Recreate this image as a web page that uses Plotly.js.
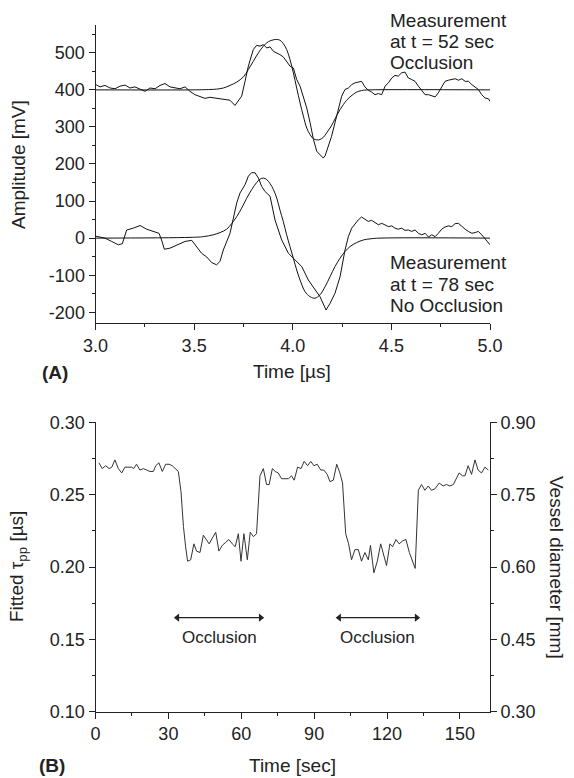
<!DOCTYPE html>
<html>
<head>
<meta charset="utf-8">
<script src="https://cdn.plot.ly/plotly-3.0.1.min.js"></script>
<style>html,body{margin:0;padding:0;background:#fff}#chart{width:574px;height:778px}</style>
</head>
<body>
<div id="chart"></div>
<script>
// ---------- Panel A: waveforms (time in µs, amplitude in mV) ----------
const tOcc = [3.003,3.023,3.048,3.074,3.099,3.124,3.150,3.175,3.200,3.226,3.251,3.276,3.302,3.327,3.352,3.378,3.403,3.428,3.454,3.479,3.504,3.530,3.555,3.580,3.606,3.631,3.656,3.682,3.707,3.724,3.741,3.758,3.775,3.800,3.817,3.834,3.851,3.868,3.885,3.902,3.919,3.935,3.952,3.969,3.986,4.003,4.020,4.037,4.054,4.071,4.088,4.105,4.122,4.138,4.155,4.164,4.181,4.197,4.214,4.231,4.248,4.265,4.282,4.299,4.316,4.332,4.349,4.366,4.383,4.400,4.417,4.434,4.451,4.468,4.485,4.502,4.518,4.535,4.552,4.569,4.586,4.603,4.620,4.637,4.654,4.671,4.688,4.705,4.722,4.738,4.755,4.772,4.789,4.806,4.823,4.840,4.857,4.874,4.891,4.908,4.925,4.941,4.958,4.975,4.992,5.000];
const ampOcc = [414,408,412,405,403,410,413,405,408,401,396,405,403,412,417,408,405,403,408,396,387,381,377,380,378,377,376,372,358,369,383,423,464,509,520,518,522,513,516,504,500,495,489,477,464,459,428,410,383,351,311,266,234,225,216,222,248,275,311,351,383,401,405,414,419,421,423,408,399,394,387,390,387,410,419,432,439,437,446,448,432,428,423,410,399,387,387,383,381,392,408,423,426,428,430,426,430,423,423,414,408,401,387,378,376,369];

const tOccFit = [3.0,3.50,3.58,3.614,3.648,3.682,3.716,3.750,3.775,3.800,3.826,3.851,3.876,3.902,3.919,3.935,3.952,3.969,3.986,4.003,4.020,4.037,4.054,4.071,4.088,4.105,4.122,4.138,4.155,4.172,4.189,4.206,4.223,4.240,4.256,4.273,4.290,4.307,4.324,4.341,4.358,4.392,5.0];
const ampOccFit = [400,400,401,402,405,412,421,435,455,477,500,518,530,535,536,534,525,509,482,446,405,365,329,297,279,268,265,266,272,284,297,313,331,347,360,372,381,388,394,397,399,400,400];

const tNo = [3.003,3.023,3.048,3.082,3.116,3.136,3.146,3.158,3.192,3.226,3.260,3.293,3.322,3.335,3.349,3.378,3.403,3.428,3.454,3.488,3.513,3.538,3.564,3.589,3.614,3.631,3.648,3.665,3.682,3.699,3.716,3.733,3.758,3.775,3.792,3.809,3.826,3.842,3.859,3.885,3.910,3.944,3.978,4.012,4.046,4.079,4.113,4.138,4.169,4.189,4.214,4.240,4.265,4.282,4.299,4.316,4.332,4.349,4.366,4.383,4.400,4.417,4.434,4.451,4.468,4.485,4.502,4.518,4.535,4.552,4.569,4.586,4.603,4.620,4.637,4.654,4.671,4.688,4.705,4.722,4.738,4.755,4.772,4.789,4.806,4.823,4.840,4.857,4.874,4.891,4.908,4.925,4.941,4.958,4.975,4.992,5.000];
const ampNo = [5,3,0,-9,-18,-15,4,22,27,34,24,18,13,-5,-30,-27,-21,-14,-9,-6,-23,-41,-51,-66,-72,-63,-32,-9,13,54,95,122,144,167,177,176,162,140,126,113,49,-5,-41,-59,-77,-113,-140,-158,-194,-176,-149,-104,-32,4,27,40,49,57,51,45,48,42,36,40,36,31,33,27,24,27,21,22,18,22,13,9,13,3,9,4,13,24,30,33,31,39,40,31,24,18,13,15,18,9,-3,-12,-18];

const tNoFit = [3.0,3.479,3.547,3.597,3.631,3.665,3.690,3.716,3.741,3.766,3.792,3.817,3.834,3.851,3.868,3.885,3.902,3.919,3.935,3.952,3.969,3.986,4.003,4.020,4.037,4.062,4.088,4.113,4.138,4.164,4.189,4.214,4.240,4.265,4.290,4.324,4.358,4.392,4.442,5.0];
const ampNoFit = [0,2,4,9,15,24,39,58,81,107,131,150,159,162,158,147,131,108,76,45,9,-23,-54,-86,-113,-144,-158,-162,-153,-131,-104,-77,-54,-36,-23,-12,-5,-2,0,0];

const ampTickVals = [-200,-100,0,100,200,300,400,500];
const ampTickText = ['-200','-100','0','100','200','300','400','500'];

// ---------- Panel B: fitted tau_pp over time ----------
const timeSec = [1.4,2.8,4.2,5.6,6.7,8.0,9.4,10.8,12.1,13.5,14.9,15.7,16.9,18.3,19.7,21.1,22.4,23.8,24.8,26.1,27.5,28.9,30.3,31.6,33.0,34.1,35.2,36.2,37.1,37.9,39.2,40.5,41.6,43.0,44.4,45.8,46.8,48.1,49.5,50.8,52.2,53.6,54.9,56.3,57.5,58.8,59.9,61.1,62.5,63.7,65.0,66.3,67.7,69.1,70.4,71.5,72.8,74.0,75.2,76.6,78.0,79.4,80.7,81.8,83.2,84.6,85.9,87.3,88.6,89.9,91.3,92.7,94.0,95.4,96.5,97.9,99.3,100.6,101.7,103.0,104.2,105.4,106.8,108.2,109.5,110.9,112.3,113.2,114.6,116.0,117.4,118.7,119.8,121.2,122.3,123.7,125.0,126.4,127.8,129.2,130.5,131.6,132.9,134.2,135.6,137.0,138.3,139.7,141.5,143.1,144.5,145.9,147.3,148.6,149.7,151.1,152.1,153.4,154.8,156.2,157.5,158.9,160.3,161.7];
const tauPP = [0.272,0.268,0.270,0.268,0.269,0.274,0.268,0.265,0.269,0.269,0.269,0.268,0.271,0.267,0.268,0.267,0.266,0.266,0.270,0.272,0.266,0.271,0.271,0.270,0.268,0.266,0.252,0.228,0.214,0.204,0.205,0.216,0.211,0.210,0.222,0.218,0.216,0.220,0.224,0.211,0.215,0.217,0.219,0.216,0.214,0.223,0.204,0.223,0.205,0.224,0.221,0.223,0.263,0.268,0.257,0.257,0.268,0.266,0.265,0.261,0.261,0.261,0.263,0.260,0.269,0.268,0.273,0.270,0.273,0.270,0.271,0.267,0.267,0.264,0.259,0.260,0.271,0.265,0.258,0.223,0.216,0.205,0.212,0.212,0.204,0.210,0.205,0.215,0.196,0.204,0.216,0.208,0.201,0.216,0.214,0.219,0.216,0.218,0.219,0.210,0.204,0.199,0.253,0.257,0.253,0.256,0.253,0.254,0.258,0.256,0.257,0.256,0.257,0.261,0.265,0.263,0.263,0.270,0.264,0.274,0.267,0.265,0.269,0.267];

const occlusionStart = [33.7, 100.3];
const occlusionEnd = [68.0, 132.2];
const arrowLevel = 0.165;
const labelLevel = 0.151;

// ---------- Figure ----------
const W = 574, H = 778;
const FONT = 'Liberation Sans, Arial, Helvetica, sans-serif';
const INK = '#222';
const px = x => x / W;
const py = y => 1 - y / H;

const lineBlack = {color: '#111', width: 1};
const traces = [
  {x: tOcc, y: ampOcc, xaxis: 'x', yaxis: 'y', mode: 'lines', line: lineBlack},
  {x: tOccFit, y: ampOccFit, xaxis: 'x', yaxis: 'y', mode: 'lines', line: {color: '#111', width: 1, shape: 'spline', smoothing: 1}},
  {x: tNo, y: ampNo, xaxis: 'x', yaxis: 'y', mode: 'lines', line: lineBlack},
  {x: tNoFit, y: ampNoFit, xaxis: 'x', yaxis: 'y', mode: 'lines', line: {color: '#111', width: 1, shape: 'spline', smoothing: 1}},
  {x: timeSec, y: tauPP, xaxis: 'x2', yaxis: 'y2', mode: 'lines', line: {color: '#333', width: 1}},
  // carrier for the right-hand vessel-diameter axis (draws nothing)
  {x: [null], y: [null], xaxis: 'x2', yaxis: 'y3', mode: 'lines', line: {width: 0}}
];
occlusionStart.forEach((s, i) => {
  traces.push({x: [s, occlusionEnd[i]], y: [arrowLevel, arrowLevel], xaxis: 'x2', yaxis: 'y2', mode: 'lines+markers',
    line: {color: INK, width: 1.3},
    marker: {symbol: ['triangle-left', 'triangle-right'], size: 7, color: INK}});
});

const axBase = {
  showline: true, linecolor: INK, linewidth: 1, mirror: false,
  ticks: 'outside', ticklen: 6, tickwidth: 1, tickcolor: INK,
  showgrid: false, zeroline: false, fixedrange: true,
  tickfont: {family: FONT, size: 18, color: INK}
};
const minorBase = {ticks: 'outside', ticklen: 3, tickwidth: 1, tickcolor: INK};

const annFont = {family: FONT, size: 19, color: INK};
function lab(x, y, text, extra) {
  return Object.assign({xref: 'paper', yref: 'paper', x: px(x), y: py(y), text: text, showarrow: false,
    xanchor: 'center', yanchor: 'middle', font: annFont}, extra || {});
}
const annotations = [
  lab(18, 165, 'Amplitude [mV]', {textangle: -90}),
  lab(292, 371, 'Time [µs]'),
  lab(55, 372, '<b>(A)</b>'),
  lab(388, 20, 'Measurement', {xanchor: 'left'}),
  lab(388, 42, 'at t = 52 sec', {xanchor: 'left'}),
  lab(388, 63, 'Occlusion', {xanchor: 'left'}),
  lab(388, 262, 'Measurement', {xanchor: 'left'}),
  lab(388, 284, 'at t = 78 sec', {xanchor: 'left'}),
  lab(388, 305, 'No Occlusion', {xanchor: 'left'}),
  lab(18, 567, 'Fitted τ<sub>pp</sub> [µs]', {textangle: -90}),
  lab(557, 567, 'Vessel diameter [mm]', {textangle: 90}),
  lab(292, 765, 'Time [sec]'),
  lab(52, 765, '<b>(B)</b>')
];
occlusionStart.forEach((s, i) => {
  annotations.push({xref: 'x2', yref: 'y2', x: (s + occlusionEnd[i]) / 2, y: labelLevel, text: 'Occlusion', showarrow: false,
    xanchor: 'center', yanchor: 'middle', font: {family: FONT, size: 17, color: INK}});
});

const layout = {
  width: W, height: H,
  margin: {l: 0, r: 0, t: 0, b: 0},
  paper_bgcolor: '#fff', plot_bgcolor: '#fff',
  showlegend: false, hovermode: false,
  font: {family: FONT, color: INK},
  xaxis: Object.assign({}, axBase, {domain: [px(95.5), px(490)], anchor: 'y', range: [3, 5], dtick: 0.5, tick0: 3, tickformat: '.1f',
    minor: Object.assign({dtick: 0.25, tick0: 3}, minorBase)}),
  yaxis: Object.assign({}, axBase, {domain: [py(323), py(25)], anchor: 'x', range: [-229, 575], tickmode: 'array', tickvals: ampTickVals, ticktext: ampTickText,
    minor: Object.assign({dtick: 50, tick0: 0}, minorBase)}),
  xaxis2: Object.assign({}, axBase, {domain: [px(95.5), px(490)], anchor: 'y2', range: [0, 162.4], dtick: 30, tick0: 0,
    minor: Object.assign({dtick: 15, tick0: 0}, minorBase)}),
  yaxis2: Object.assign({}, axBase, {domain: [py(711.7), py(422.3)], anchor: 'x2', range: [0.1, 0.3], dtick: 0.05, tick0: 0.1, tickformat: '.2f',
    minor: Object.assign({dtick: 0.025, tick0: 0.1}, minorBase)}),
  yaxis3: Object.assign({}, axBase, {overlaying: 'y2', side: 'right', anchor: 'x2', range: [0.3, 0.9], dtick: 0.15, tick0: 0.3, tickformat: '.2f',
    minor: Object.assign({dtick: 0.075, tick0: 0.3}, minorBase)}),
  annotations: annotations
};

Plotly.newPlot('chart', traces, layout, {staticPlot: true, displayModeBar: false});
</script>
</body>
</html>
